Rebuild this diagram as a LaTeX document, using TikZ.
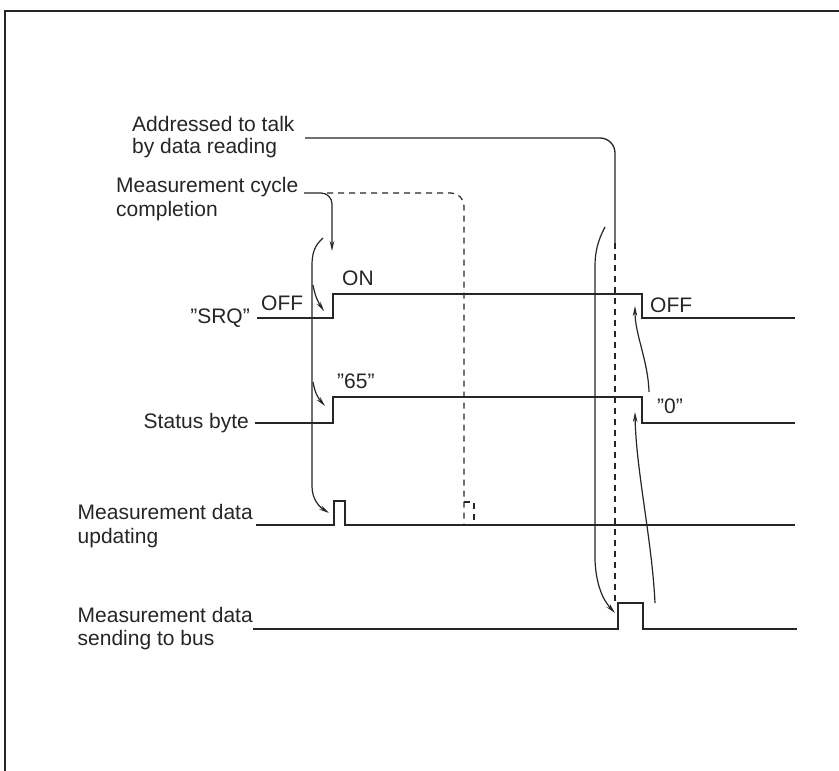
\documentclass[tikz,border=0pt]{standalone}
\usepackage{fontspec}
\setmainfont{Liberation Sans}
\usetikzlibrary{arrows.meta,calc}
\definecolor{ink}{HTML}{262626}
\begin{document}
\begin{tikzpicture}[x=1pt,y=-1pt,
  sig/.style={draw=ink,line width=1.4pt,line join=miter},
  dsh/.style={draw=ink,line width=1.2pt,dash pattern=on 6pt off 5pt},
  arr/.style={draw=ink,line width=1.2pt,-{Stealth[length=10pt,width=4.5pt]}},
  lbl/.style={inner sep=0pt,text=ink,font=\fontsize{21}{24}\selectfont}]
\useasboundingbox (0,0) rectangle (839,771);
\fill[white] (0,0) rectangle (839,771);
% frame
\draw[ink,line width=1.3pt] (5,771) -- (5,11) -- (839,11);

% labels
\node[lbl,anchor=base west] (addr1) at (132,131) {Addressed to talk};
\node[lbl,anchor=base west] (addr2) at (132,153) {by data reading};
\node[lbl,anchor=base west] (mc1) at (116,192) {Measurement cycle};
\node[lbl,anchor=base west] (mc2) at (116,216) {completion};
\node[lbl,anchor=base east] (srq) at (250,323) {''SRQ''};
\node[lbl,anchor=base west] (off1) at (261,310) {OFF};
\node[lbl,anchor=base west] (on) at (342,285) {ON};
\node[lbl,anchor=base west] (s65) at (337,388) {''65''};
\node[lbl,anchor=base east] (stat) at (249,428) {Status byte};
\node[lbl,anchor=base west] (off2) at (650,312) {OFF};
\node[lbl,anchor=base west] (zero) at (657,413) {''0''};
\node[lbl,anchor=base east] (mdu1) at (253,519) {Measurement data};
\node[lbl,anchor=base west] (mdu2) at ($(mdu1.base west)+(0,24)$) {updating};
\node[lbl,anchor=base east] (mds1) at (253,622) {Measurement data};
\node[lbl,anchor=base west] (mds2) at ($(mds1.base west)+(0,23)$) {sending to bus};

% key points
\coordinate (srqA) at (257,318);
\coordinate (srqR) at (333,294);
\coordinate (srqF) at (642,318);
\coordinate (srqE) at (795,318);
\coordinate (stA) at (255,423);
\coordinate (stR) at (333,397);
\coordinate (stF) at (642,423);
\coordinate (stE) at (795,423);
\coordinate (upA) at (256,525);
\coordinate (upE) at (795,525);
\coordinate (bsA) at (253,629);
\coordinate (bsE) at (797,629);

% waveforms
\draw[sig] (srqA) -- (333,318) -- (srqR) -- (642,294) -- (srqF) -- (srqE);
\draw[sig] (stA) -- (333,423) -- (stR) -- (642,397) -- (stF) -- (stE);
\draw[sig] (upA) -- (334,525) -- (334,501) -- (345,501) -- (345,525) -- (upE);
\draw[sig] (bsA) -- (618,629) -- (618,603) -- (643,603) -- (643,629) -- (bsE);

% measurement cycle completion
\coordinate (mcS) at (304,193);
\coordinate (mcT) at (332,251);
\draw[arr,rounded corners=11pt] (mcS) -| (mcT);
\coordinate (dS) at (327,193);
\coordinate (dT) at (464,525);
\draw[dsh,rounded corners=13pt] (dS) -| (dT);
\draw[dsh] (464,502) -- (474,502) -- (474,525);

% addressed to talk
\coordinate (adS) at (305,138);
\coordinate (adM) at (615,243);
\coordinate (adT) at (615,603);
\draw[sig,line width=1.3pt,rounded corners=15pt] (adS) -| (adM);
\draw[dsh] (adM) -- (adT);

% left curved line with branches
\coordinate (lTop) at (323,238);
\coordinate (lTip) at (329,513);
\draw[arr] (lTop) .. controls (314,246) and (312,254) .. (312,266) -- (312,486) .. controls (312,498) and (318,506) .. (lTip);
\draw[arr] (313,285) .. controls (315,296) and (318,302) .. (324,311);
\draw[arr] (313,382) .. controls (315,393) and (318,398) .. (325,406);

% right curved line
\coordinate (rTop) at (605,227);
\coordinate (rTip) at (615,613);
\draw[arr] (rTop) .. controls (598,240) and (595,252) .. (595,266) -- (595,560) .. controls (596,585) and (603,600) .. (rTip);

% return arrows to falling edges
\draw[arr] (655,603) .. controls (652,540) and (636,470) .. (635,412);
\draw[arr] (649,392) .. controls (648,360) and (635,335) .. (635,306);
\end{tikzpicture}
\end{document}
